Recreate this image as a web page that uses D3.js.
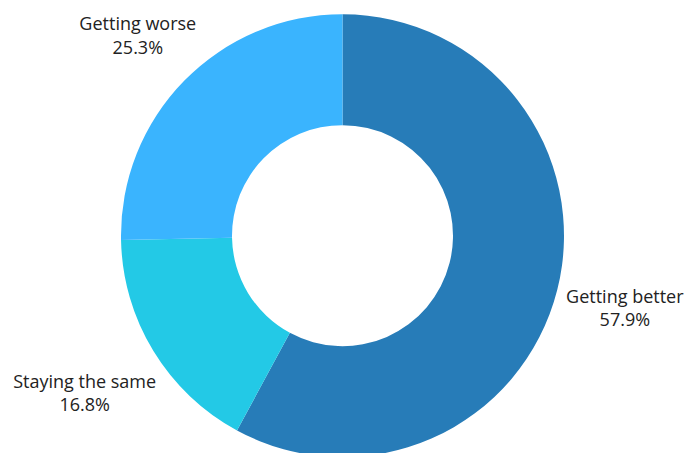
<!DOCTYPE html>
<html>
<head>
<meta charset="utf-8">
<script src="https://cdn.jsdelivr.net/npm/d3@7"></script>
<style>
  html, body { margin: 0; padding: 0; background: #fff; }
  svg { display: block; }
  text { font-family: "Open Sans", "DejaVu Sans", sans-serif; font-size: 18px; fill: #222; }
</style>
</head>
<body>
<svg id="chart" width="688" height="453"></svg>
<script>
// Opinion shares, drawn clockwise from 12 o'clock
const categories = ["Getting better", "Staying the same", "Getting worse"];
const shares = [57.9, 16.8, 25.3];
const colors = ["#277cb8", "#23c9e6", "#3ab4fe"];

const width = 688, height = 453;
const cx = 342.5, cy = 235.7;
const outerR = 221.5, innerR = 110.5;
const labelGap = 7; // distance from the ring to the nearest edge of a label block

const svg = d3.select("#chart");
const g = svg.append("g").attr("transform", `translate(${cx},${cy})`);

const data = categories.map((c, i) => ({ name: c, value: shares[i], color: colors[i] }));

const pie = d3.pie().value(d => d.value).sort(null);
const arc = d3.arc().innerRadius(innerR).outerRadius(outerR);
const arcs = pie(data);

g.selectAll("path.slice")
  .data(arcs)
  .join("path")
  .attr("class", "slice")
  .attr("d", arc)
  .attr("fill", d => d.data.color);

// Two-line labels placed on each slice's mid-angle ray, just outside the ring
const labels = g.selectAll("g.label")
  .data(arcs)
  .join("g")
  .attr("class", "label");

labels.each(function(d) {
  const lg = d3.select(this);
  const t = lg.append("text").attr("text-anchor", "middle");
  t.append("tspan").attr("x", 0).attr("dy", "-0.2em").text(d.data.name);
  t.append("tspan").attr("x", 0).attr("dy", "1.3em").text(d3.format(".1f")(d.data.value) + "%");
  const bb = t.node().getBBox();
  const mid = (d.startAngle + d.endAngle) / 2;
  const ux = Math.sin(mid), uy = -Math.cos(mid);
  const hw = bb.width / 2, hh = bb.height / 2;
  const bcx = bb.x + hw, bcy = bb.y + hh;
  const dist = outerR + labelGap + hw * Math.abs(ux) + hh * Math.abs(uy);
  lg.attr("transform", `translate(${ux * dist - bcx},${uy * dist - bcy})`);
});
</script>
</body>
</html>
